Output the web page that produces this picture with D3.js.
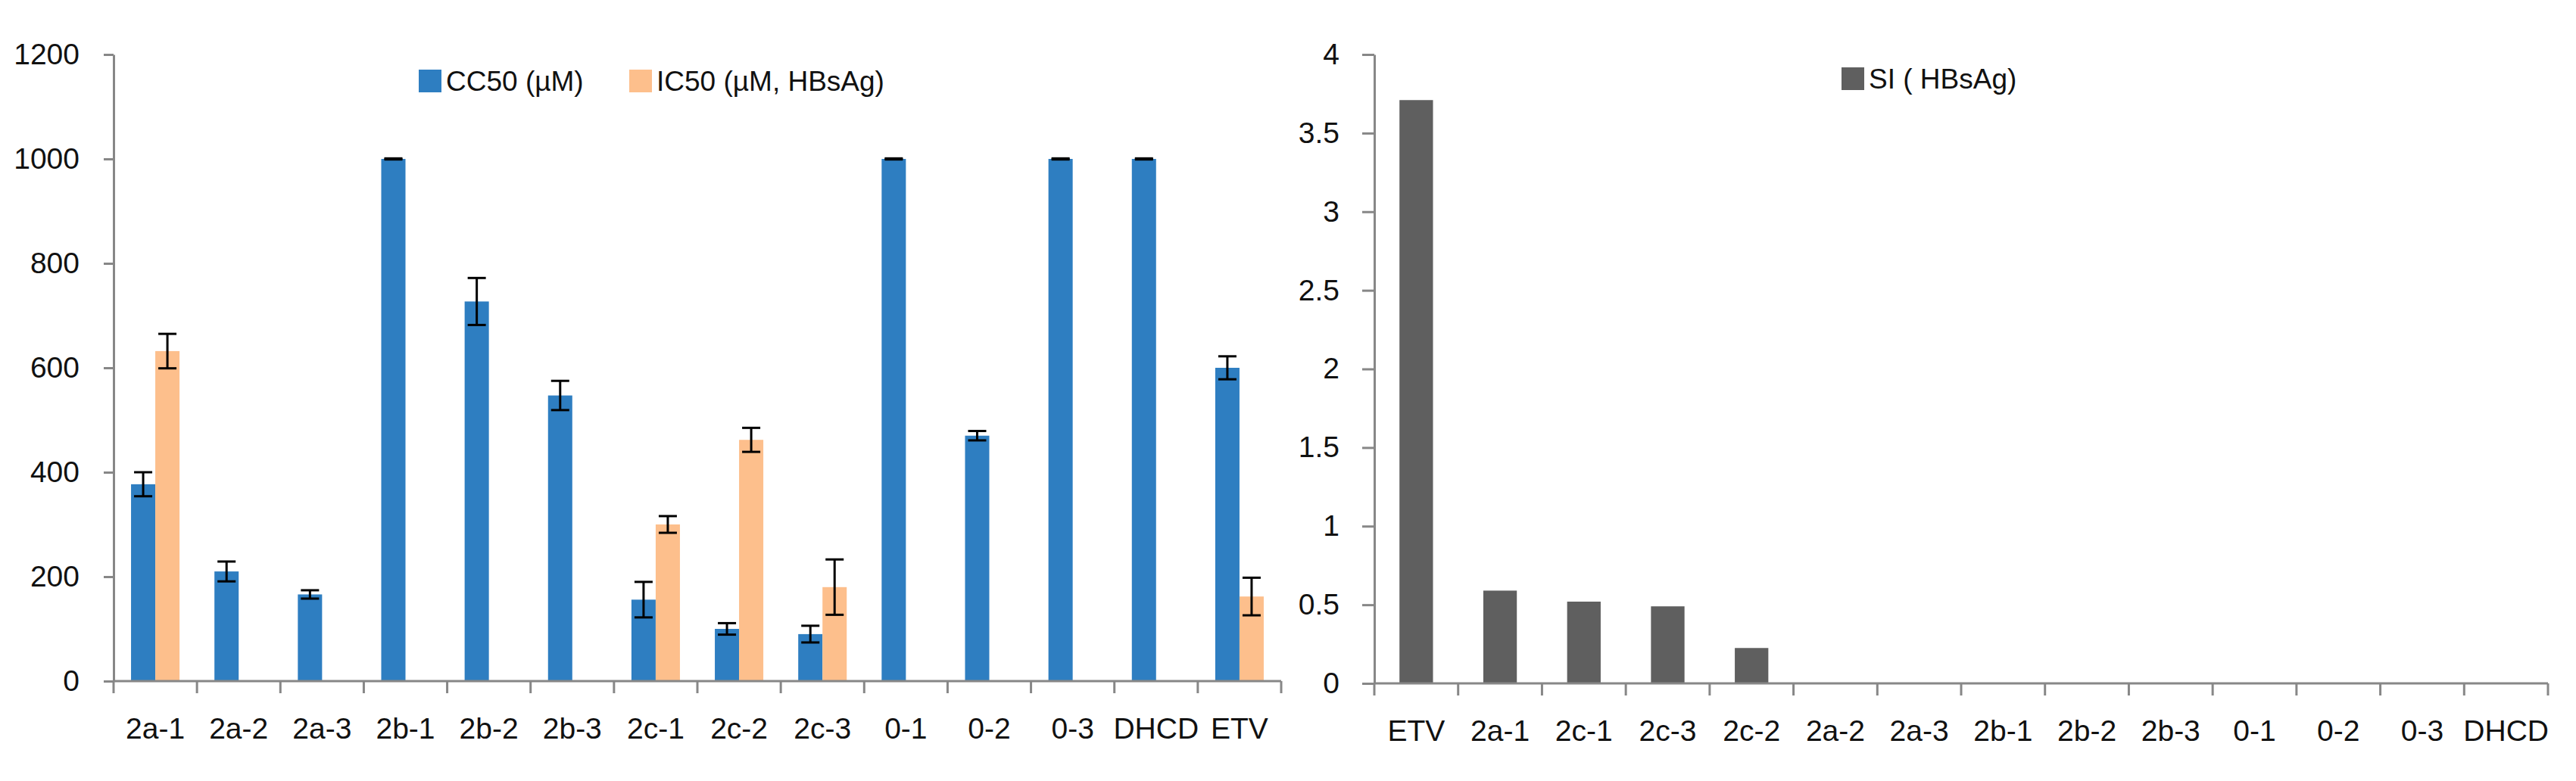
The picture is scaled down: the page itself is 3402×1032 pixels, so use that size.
<!DOCTYPE html>
<html>
<head>
<meta charset="utf-8">
<script src="https://cdn.jsdelivr.net/npm/d3@7"></script>
<style>
  body { margin: 0; background: #fff; }
  svg text { font-family: "Liberation Sans", Arial, sans-serif; fill: #111; }
</style>
</head>
<body>
<div id="viz"></div>
<script>
// left chart data
const compounds = ["2a-1", "2a-2", "2a-3", "2b-1", "2b-2", "2b-3", "2c-1", "2c-2", "2c-3", "0-1", "0-2", "0-3", "DHCD", "ETV"];
const cc50 = [377, 210, 166, 1000, 727, 547, 156, 100, 90, 1000, 470, 1000, 1000, 600];
const cc50Err = [23, 19, 8, 1, 45, 28, 34, 11, 16, 1, 9, 1, 1, 22];
const ic50 = [632, null, null, null, null, null, 300, 462, 180, null, null, null, null, 162];
const ic50Err = [33, null, null, null, null, null, 16, 23, 53, null, null, null, null, 36];
const leftTicks = [0, 200, 400, 600, 800, 1000, 1200];
const leftLegend = ["CC50 (µM)", "IC50 (µM, HBsAg)"];

// right chart data (sorted by SI)
const siCompounds = ["ETV", "2a-1", "2c-1", "2c-3", "2c-2", "2a-2", "2a-3", "2b-1", "2b-2", "2b-3", "0-1", "0-2", "0-3", "DHCD"];
const si = [3.71, 0.59, 0.52, 0.49, 0.225, 0, 0, 0, 0, 0, 0, 0, 0, 0];
const rightTicks = [0, 0.5, 1, 1.5, 2, 2.5, 3, 3.5, 4];
const rightLegend = ["SI ( HBsAg)"];

const blue = "#2E7EC1", peach = "#FDBF8C", grey = "#5F5F5F", axisCol = "#878787";

const svg = d3.select("#viz").append("svg")
  .attr("width", 3402)
  .attr("height", 1032);

// ---------- left chart ----------
const xL = d3.scaleBand().domain(compounds).range([150, 1692]);
const xSub = d3.scaleBand().domain(["cc", "ic"]).range([0, xL.bandwidth()]).paddingOuter(0.72);
const yL = d3.scaleLinear().domain([0, 1200]).range([900, 72]);

const gL = svg.append("g");

gL.selectAll("rect.cc").data(compounds).enter().append("rect")
  .attr("x", d => xL(d) + xSub("cc"))
  .attr("y", (d, i) => yL(cc50[i]))
  .attr("width", xSub.bandwidth())
  .attr("height", (d, i) => yL(0) - yL(cc50[i]))
  .attr("fill", blue);

gL.selectAll("rect.ic").data(compounds.filter((d, i) => ic50[i] != null)).enter().append("rect")
  .attr("x", d => xL(d) + xSub("ic"))
  .attr("y", d => yL(ic50[compounds.indexOf(d)]))
  .attr("width", xSub.bandwidth())
  .attr("height", d => yL(0) - yL(ic50[compounds.indexOf(d)]))
  .attr("fill", peach);

// error bars
function errBar(g, cx, v, e) {
  const cap = 12;
  g.append("line").attr("x1", cx).attr("x2", cx).attr("y1", yL(v - e)).attr("y2", yL(v + e))
    .attr("stroke", "#000").attr("stroke-width", 3);
  [v - e, v + e].forEach(t => {
    g.append("line").attr("x1", cx - cap).attr("x2", cx + cap).attr("y1", yL(t)).attr("y2", yL(t))
      .attr("stroke", "#000").attr("stroke-width", 3);
  });
}
compounds.forEach((d, i) => {
  errBar(gL, xL(d) + xSub("cc") + xSub.bandwidth() / 2, cc50[i], cc50Err[i]);
  if (ic50[i] != null) errBar(gL, xL(d) + xSub("ic") + xSub.bandwidth() / 2, ic50[i], ic50Err[i]);
});

// y axis
const axL = gL.append("g").attr("transform", "translate(150,0)")
  .call(d3.axisLeft(yL).tickValues(leftTicks).tickSize(13).tickPadding(32).tickSizeOuter(0)
    .tickFormat(d3.format("d")));
axL.select(".domain").attr("stroke", axisCol).attr("stroke-width", 3);
axL.selectAll(".tick line").attr("stroke", axisCol).attr("stroke-width", 3);
axL.selectAll(".tick text").style("font-size", "39px").attr("fill", "#111")
  .style("font-family", "Liberation Sans, Arial, sans-serif");

// x axis
function drawXAxis(g, x, y0, cats) {
  const r = x.range();
  g.append("line").attr("x1", r[0]).attr("x2", r[1]).attr("y1", y0).attr("y2", y0)
    .attr("stroke", axisCol).attr("stroke-width", 3);
  const edges = cats.map(c => x(c)).concat([r[1]]);
  g.selectAll(null).data(edges).enter().append("line")
    .attr("x1", d => d).attr("x2", d => d).attr("y1", y0).attr("y2", y0 + 16)
    .attr("stroke", axisCol).attr("stroke-width", 3);
  g.selectAll(null).data(cats).enter().append("text")
    .attr("x", d => x(d) + x.step() / 2)
    .attr("y", y0 + 76)
    .attr("text-anchor", "middle")
    .style("font-size", "39px")
    .text(d => d);
}
drawXAxis(gL, xL, yL(0), compounds);

// legend left
const legL = gL.append("g");
const legX = [553, 831];
leftLegend.forEach((t, i) => {
  legL.append("rect").attr("x", legX[i]).attr("y", 92).attr("width", 30).attr("height", 30)
    .attr("fill", i === 0 ? blue : peach);
  legL.append("text").attr("x", legX[i] + 36).attr("y", 120).style("font-size", "37px").text(t);
});

// ---------- right chart ----------
const xR = d3.scaleBand().domain(siCompounds).range([1815, 3365]);
const yR = d3.scaleLinear().domain([0, 4]).range([903, 72]);
const gR = svg.append("g");
const barW = xR.bandwidth() * 0.4;

gR.selectAll("rect").data(siCompounds).enter().append("rect")
  .attr("x", d => xR(d) + (xR.bandwidth() - barW) / 2)
  .attr("y", (d, i) => yR(si[i]))
  .attr("width", barW)
  .attr("height", (d, i) => yR(0) - yR(si[i]))
  .attr("fill", grey);

const axR = gR.append("g").attr("transform", "translate(1815,0)")
  .call(d3.axisLeft(yR).tickValues(rightTicks).tickSize(16).tickPadding(30).tickSizeOuter(0)
    .tickFormat(d3.format("")));
axR.select(".domain").attr("stroke", axisCol).attr("stroke-width", 3);
axR.selectAll(".tick line").attr("stroke", axisCol).attr("stroke-width", 3);
axR.selectAll(".tick text").style("font-size", "39px").attr("fill", "#111")
  .style("font-family", "Liberation Sans, Arial, sans-serif");

drawXAxis(gR, xR, yR(0), siCompounds);

// legend right
gR.append("rect").attr("x", 2432).attr("y", 89).attr("width", 30).attr("height", 30).attr("fill", grey);
gR.append("text").attr("x", 2468).attr("y", 117).style("font-size", "37px").text(rightLegend[0]);
</script>
</body>
</html>
